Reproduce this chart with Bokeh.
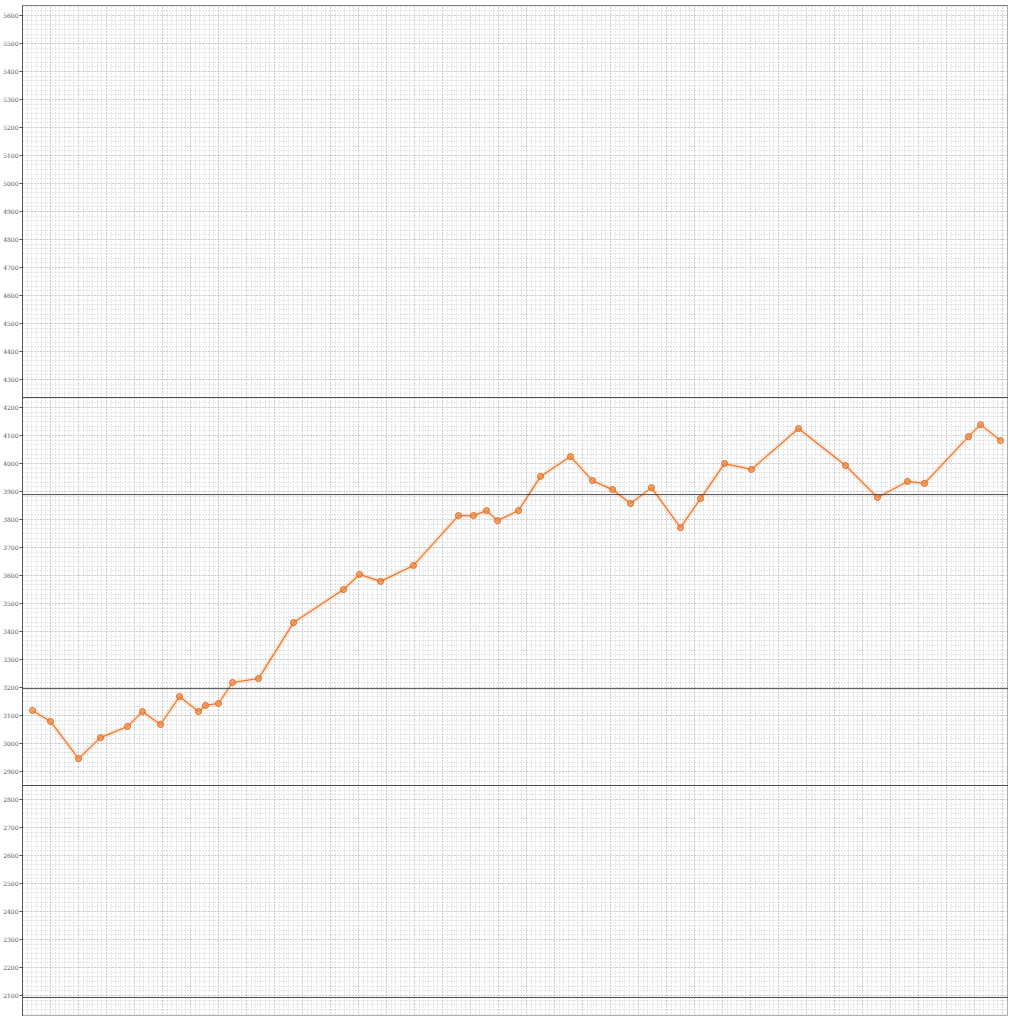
from bokeh.plotting import figure
from bokeh.models import Range1d, SingleIntervalTicker, Span
from bokeh.embed import file_html
from bokeh.resources import INLINE

# data
x_vals = [10, 28, 56, 78, 105, 120, 138, 157, 176, 183, 196, 210, 236, 271, 321, 337,
          358, 391, 436, 451, 464, 475, 496, 518, 548, 570, 590, 608, 629, 658, 678,
          702, 729, 776, 823, 855, 885, 902, 946, 958, 978]
y_vals = [3118, 3079, 2946, 3021, 3061, 3114, 3068, 3168, 3114, 3136, 3143, 3218, 3232,
          3432, 3550, 3604, 3579, 3636, 3814, 3814, 3832, 3796, 3832, 3954, 4025, 3939,
          3907, 3857, 3914, 3771, 3875, 4000, 3979, 4125, 3993, 3879, 3936, 3929, 4096,
          4139, 4082]
ref_lines = [4236, 3889, 3196, 2850, 2093]
y_top = 5636

p = figure(width=1008, height=1016, output_backend="svg", toolbar_location=None,
           x_axis_location=None, x_range=Range1d(0, 986), y_range=Range1d(2025, y_top),
           min_border_left=0, min_border_right=0, min_border_top=5, min_border_bottom=0)
p.background_fill_color = "#ffffff"
p.border_fill_color = "#ffffff"
p.outline_line_color = "#b0b0b0"
p.outline_line_width = 1

ax = p.yaxis[0]
ax.ticker = SingleIntervalTicker(interval=100, num_minor_ticks=6)
ax.major_label_text_font = "DejaVu Serif"
ax.major_label_text_font_size = "6px"
ax.major_label_text_color = "#555555"
ax.major_label_standoff = 1
ax.major_tick_out = 3
ax.major_tick_in = 0
ax.minor_tick_out = 0
ax.minor_tick_in = 0
ax.axis_line_color = "#555555"
ax.major_tick_line_color = "#555555"

for g in (p.ygrid, p.xgrid):
    g.grid_line_color = "#98a2ac"
    g.grid_line_dash = "1 2"
    g.grid_line_alpha = 0.7
    g.minor_grid_line_color = "#a4adb6"
    g.minor_grid_line_dash = "1 2"
    g.minor_grid_line_alpha = 0.6
p.xgrid.ticker = SingleIntervalTicker(interval=28, num_minor_ticks=6)

p.add_layout(Span(location=y_top, dimension="width", line_color="#4a4a4a", line_width=1))
for v in ref_lines:
    p.add_layout(Span(location=v, dimension="width", line_color="#4a4a4a", line_width=1))

p.line(x_vals, y_vals, line_color="#f7c29c", line_width=5, line_alpha=0.35)
p.line(x_vals, y_vals, line_color="#e8772e", line_width=1.2)
p.scatter(x_vals, y_vals, marker="circle", size=6, fill_color="#f08a45",
          fill_alpha=0.7, line_color="#e06a1e", line_width=1)

open("out.html", "w").write(file_html(p, INLINE))
